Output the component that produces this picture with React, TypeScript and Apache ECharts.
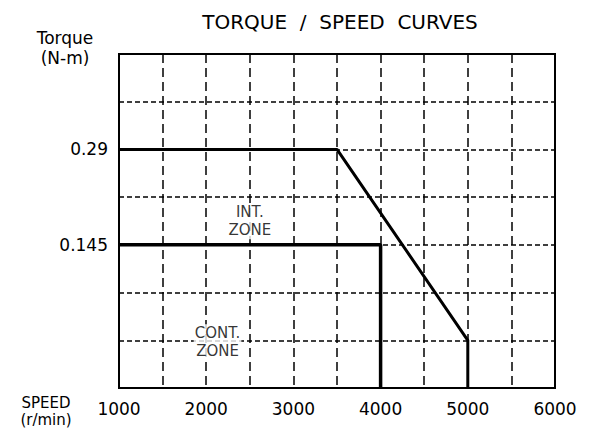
import React, { useEffect, useRef } from "react";
import * as echarts from "echarts";

const xMin = 1000;
const xMax = 6000;
const xStep = 500;
const xTickLabels = [1000, 2000, 3000, 4000, 5000, 6000];

const yMin = -0.0725;
const yMax = 0.435;
const yStep = 0.0725;
const yTickLabels = [0.145, 0.29];

const intZone: [number, number][] = [
  [1000, 0.29],
  [3500, 0.29],
  [5000, 0],
  [5000, -0.0725],
];
const contZone: [number, number][] = [
  [1000, 0.145],
  [4000, 0.145],
  [4000, -0.0725],
];
const zoneLabels: { name: string; value: [number, number] }[] = [
  { name: "INT.\nZONE", value: [2500, 0.181] },
  { name: "CONT.\nZONE", value: [2130, -0.003] },
];

const FONT = "DejaVu Sans";

export default function App() {
  const ref = useRef<HTMLDivElement>(null);
  useEffect(() => {
    if (!ref.current) return;
    const chart = echarts.init(ref.current, undefined, { renderer: "svg" });
    chart.setOption({
      animation: false,
      backgroundColor: "#ffffff",
      textStyle: { fontFamily: FONT, color: "#000" },
      title: {
        text: "TORQUE  /  SPEED  CURVES",
        left: 335,
        top: 7,
        textAlign: "center",
        textStyle: { fontFamily: FONT, fontSize: 20, fontWeight: "normal", color: "#000" },
      },
      grid: {
        left: 119,
        right: 34,
        top: 54,
        bottom: 43,
        show: true,
        borderColor: "#000",
        borderWidth: 2,
        backgroundColor: "transparent",
      },
      graphic: [
        {
          type: "text",
          x: 65,
          y: 48,
          style: {
            text: "Torque\n(N-m)",
            fontFamily: FONT,
            fontSize: 17,
            lineHeight: 20,
            fill: "#000",
            align: "center",
            verticalAlign: "middle",
          },
        },
        {
          type: "text",
          x: 46,
          y: 411,
          style: {
            text: "SPEED\n(r/min)",
            fontFamily: FONT,
            fontSize: 15,
            lineHeight: 17,
            fill: "#000",
            align: "center",
            verticalAlign: "middle",
          },
        },
      ],
      xAxis: {
        type: "value",
        min: xMin,
        max: xMax,
        interval: xStep,
        axisLine: { show: false },
        axisTick: { show: false },
        axisLabel: {
          fontFamily: FONT,
          fontSize: 17,
          color: "#000",
          margin: 12,
          formatter: (v: number) => (xTickLabels.some((t) => Math.abs(t - v) < 1e-6) ? String(v) : ""),
        },
        splitLine: {
          show: true,
          lineStyle: { color: "#000", width: 1.5, type: [9, 5] },
        },
      },
      yAxis: {
        type: "value",
        min: yMin,
        max: yMax,
        interval: yStep,
        axisLine: { show: false },
        axisTick: { show: false },
        axisLabel: {
          fontFamily: FONT,
          fontSize: 17,
          color: "#000",
          margin: 11,
          formatter: (v: number) => {
            const t = yTickLabels.find((t) => Math.abs(t - v) < 1e-6);
            return t === undefined ? "" : String(t);
          },
        },
        splitLine: {
          show: true,
          lineStyle: { color: "#000", width: 1.5, type: [5, 3] },
        },
      },
      series: [
        {
          type: "line",
          data: intZone,
          showSymbol: false,
          symbol: "none",
          lineStyle: { color: "#000", width: 3 },
          z: 3,
        },
        {
          type: "line",
          data: contZone,
          showSymbol: false,
          symbol: "none",
          lineStyle: { color: "#000", width: 3.5 },
          z: 3,
        },
        {
          type: "scatter",
          data: zoneLabels,
          symbolSize: 0,
          z: 4,
          label: {
            show: true,
            position: "inside",
            formatter: (p: any) => p.name,
            fontFamily: FONT,
            fontSize: 15,
            lineHeight: 18,
            color: "#000",
            backgroundColor: "#fff",
            padding: [0, 1],
            align: "center",
          },
        },
      ],
    });
    return () => chart.dispose();
  }, []);
  return (
    <div
      ref={ref}
      style={{ position: "fixed", left: 0, top: 0, width: 589, height: 431, background: "#fff" }}
    />
  );
}
